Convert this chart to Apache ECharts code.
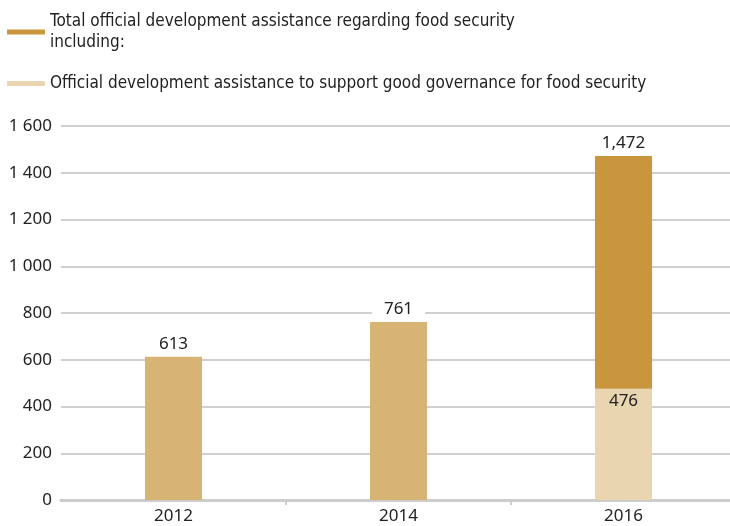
<!DOCTYPE html>
<html>
<head>
<meta charset="utf-8">
<script src="https://cdn.jsdelivr.net/npm/echarts@6/dist/echarts.min.js"></script>
<style>html,body{margin:0;padding:0;background:#fff;overflow:hidden}#c{width:736px;height:526px}</style>
</head>
<body>
<div id="c"></div>
<script>
var years = ['2012', '2014', '2016'];
var totals = [613, 761, 1472];
var governance = [null, null, 476];
var yTicks = [0, 200, 400, 600, 800, 1000, 1200, 1400, 1600];
var seriesNames = ['Total official development assistance regarding food security\nincluding:',
  'Official development assistance to support good governance for food security'];

var DARK = '#c9963e', MID = '#d8b474', LIGHT = '#ead5b1';
var FONT = 'Noto Sans';
var rest = totals.map(function (t, i) { return t - (governance[i] || 0); });

var chart = echarts.init(document.getElementById('c'));
chart.setOption({
  animation: false,
  textStyle: { fontFamily: FONT },
  legend: {
    orient: 'vertical', left: 7, top: 11, itemGap: 20, padding: 0,
    itemWidth: 38, itemHeight: 5, icon: 'rect',
    textStyle: { fontFamily: '"DejaVu Sans Condensed", Roboto, sans-serif', fontSize: 17, color: '#222', lineHeight: 21 },
    data: [{ name: seriesNames[0], itemStyle: { color: DARK } }, { name: seriesNames[1], itemStyle: { color: LIGHT } }]
  },
  grid: { left: 61, right: 0, top: 126, bottom: 26 },
  xAxis: {
    type: 'category', data: years,
    axisLine: { lineStyle: { color: '#cccccc', width: 3 } },
    axisTick: { show: true, length: 5, lineStyle: { color: '#cccccc', width: 2 },
      interval: function (i) { return i > 0; } },
    axisLabel: { fontSize: 17, color: '#222', margin: 8 }
  },
  yAxis: {
    type: 'value', min: yTicks[0], max: yTicks[yTicks.length - 1], interval: 200,
    axisLine: { show: false }, axisTick: { show: false },
    splitLine: { lineStyle: { color: '#d0d0d0', width: 2 } },
    axisLabel: {
      fontSize: 17, color: '#222', margin: 9,
      formatter: function (v) {
        return v >= 1000 ? Math.floor(v / 1000) + ' ' + String(v % 1000).padStart(3, '0') : String(v);
      }
    }
  },
  series: [
    {
      name: seriesNames[1], type: 'bar', stack: 's', barWidth: 57,
      itemStyle: { color: LIGHT },
      data: governance,
      label: { show: true, position: 'insideTop', distance: 4, fontSize: 17, color: '#222', fontFamily: FONT }
    },
    {
      name: seriesNames[0], type: 'bar', stack: 's', barWidth: 57,
      data: rest.map(function (v, i) {
        return { value: v, itemStyle: { color: governance[i] ? DARK : MID } };
      }),
      label: {
        show: true, position: 'top', distance: 4, fontSize: 17, color: '#222', fontFamily: FONT,
        backgroundColor: '#fff', padding: [0, 12, 0, 12],
        formatter: function (p) { return totals[p.dataIndex].toLocaleString('en-US'); }
      }
    }
  ]
});
</script>
</body>
</html>
